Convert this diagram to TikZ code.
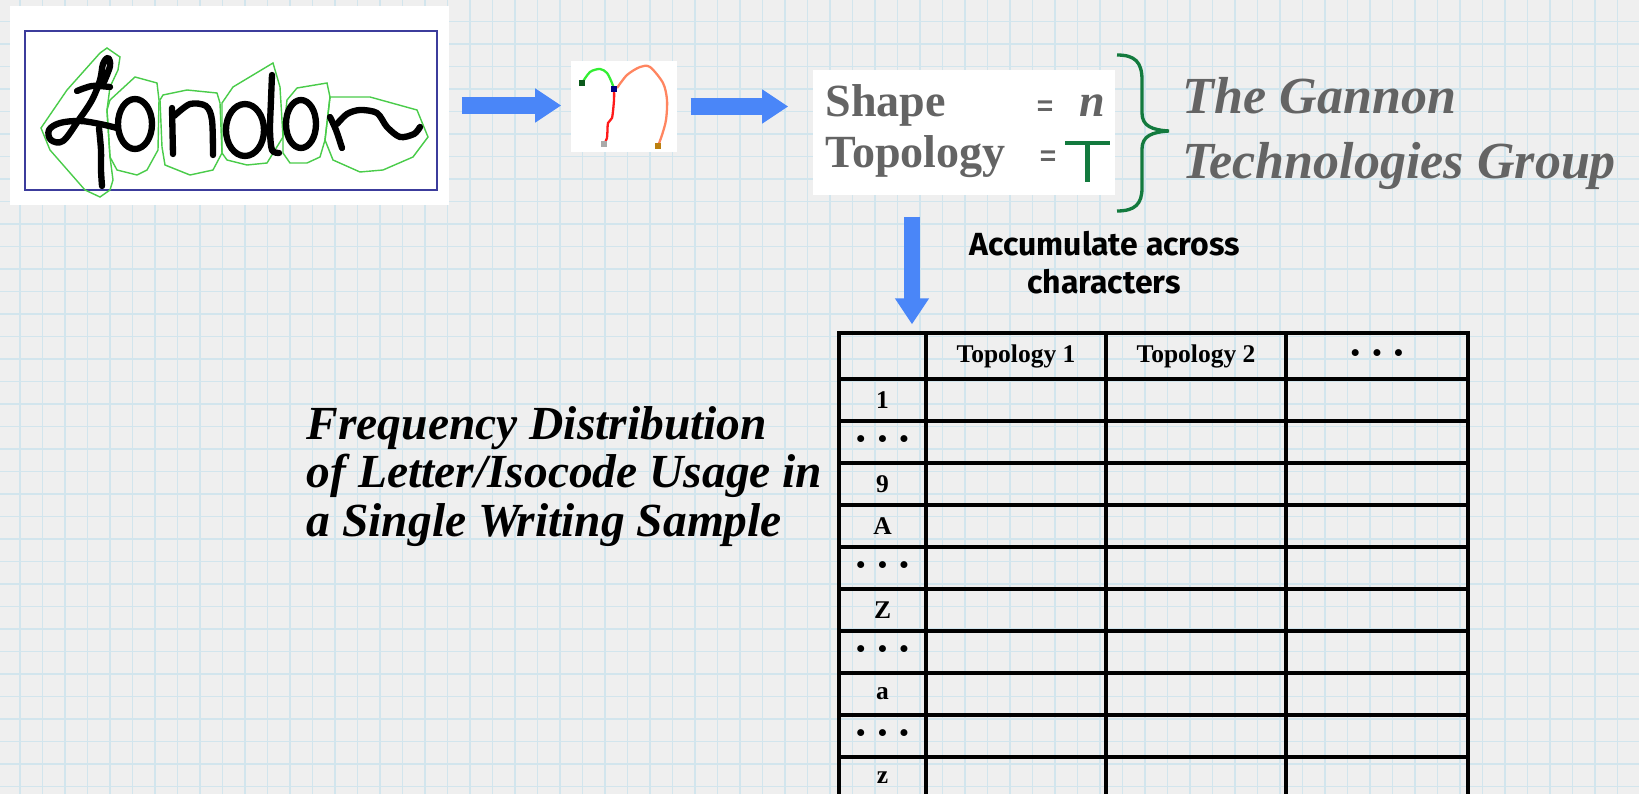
\documentclass[tikz,border=0pt]{standalone}
\usepackage{fontspec}
\setmainfont{Liberation Serif}
\newfontfamily\accfont{Fira Sans}
\newfontfamily\eqfont{Liberation Sans}
\usetikzlibrary{arrows.meta,positioning,calc}
\definecolor{paper}{HTML}{EFEFEF}
\definecolor{gridblue}{HTML}{D2E5ED}
\definecolor{arrowblue}{HTML}{4A86F8}
\definecolor{inkgray}{HTML}{646464}
\definecolor{bracegreen}{HTML}{137A3E}
\definecolor{framenavy}{HTML}{3C3C9C}
\definecolor{hullgreen}{HTML}{4ACC4A}
\definecolor{strokegreen}{HTML}{33EE33}
\definecolor{strokered}{HTML}{FF1A1A}
\definecolor{strokesalmon}{HTML}{FF8560}
\definecolor{dotdark}{HTML}{0B5A1C}
\definecolor{dotnavy}{HTML}{000080}
\definecolor{dotgray}{HTML}{AAAAAA}
\definecolor{dotbrown}{HTML}{BB7F0F}
\newcommand{\tbldots}{\textbullet\hspace{0.5em}\textbullet\hspace{0.5em}\textbullet}

\begin{document}
\begin{tikzpicture}[x=0.01cm, y=-0.01cm,
    panel/.style={fill=white, inner sep=0pt},
    blockarr/.style={-{Triangle[length=7.4pt, width=9.2pt]}, line width=4.6pt, arrowblue},
    gridline/.style={gridblue, line width=0.45pt},
    ink/.style={line width=1.8pt, line cap=round, line join=round},
    hull/.style={hullgreen, line width=0.4pt},
    featlabel/.style={inkgray, font=\fontsize{13.1}{15}\selectfont\bfseries, inner sep=0pt},
    eqsign/.style={inkgray, font=\eqfont\fontsize{8}{9}\selectfont\bfseries, inner sep=0pt},
    gannon/.style={inkgray, font=\fontsize{14.8}{17}\selectfont\bfseries\itshape, inner sep=0pt},
    acc/.style={font=\accfont\fontsize{9.1}{10.8}\selectfont\bfseries, inner sep=0pt},
    freq/.style={font=\fontsize{13.5}{13.66}\selectfont\bfseries\itshape, align=left, inner sep=0pt},
    tblcell/.style={draw=black, line width=0.9pt, inner sep=0pt,
                    font=\fontsize{7.25}{8}\selectfont\bfseries}
]
% paper background
\clip (0,0) rectangle (1639,794);
\fill[paper] (0,0) rectangle (1639,794);
\foreach \gx in {20,42.5,...,1640} \draw[gridline] (\gx,0) -- (\gx,794);
\foreach \gy in {-1,21.5,...,800} \draw[gridline] (0,\gy) -- (1639,\gy);

% handwriting sample
\node[panel, minimum width=4.39cm, minimum height=1.99cm] (london) at (229.5,105.5) {};
\draw[framenavy, line width=0.45pt] (25,31) rectangle (437,190);
\draw[hull] (107,48) -- (120,57) -- (118,70) -- (110,87) -- (107,110) -- (110,157) -- (113,180)
  -- (110,190) -- (100,197) -- (85,190) -- (50,150) -- (41,128) -- (67,90) -- (100,53) -- cycle;
\draw[hull] (110,100) -- (135,77) -- (157,83) -- (159,100) -- (158,150) -- (147,170) -- (137,175)
  -- (117,170) -- (110,157) -- (107,110) -- cycle;
\draw[hull] (163,95) -- (187,90) -- (217,93) -- (220,103) -- (222,153) -- (213,170) -- (190,175)
  -- (165,165) -- (162,147) -- (160,100) -- cycle;
\draw[hull] (222,103) -- (233,87) -- (273,63) -- (280,87) -- (283,137) -- (267,163) -- (247,165)
  -- (227,160) -- (222,153) -- cycle;
\draw[hull] (287,100) -- (297,88) -- (327,83) -- (330,97) -- (325,140) -- (320,157) -- (307,163)
  -- (290,163) -- (283,153) -- (283,137) -- cycle;
\draw[hull] (330,97) -- (370,97) -- (417,110) -- (428,137) -- (413,157) -- (383,170) -- (360,172)
  -- (333,160) -- (325,140) -- cycle;
% L
\draw[ink] plot[smooth] coordinates {(77,91) (92,86) (110,87)};
\draw[ink] plot[smooth, tension=0.6] coordinates {(104,82) (110,66) (108,58) (103,64) (100,80) (92,100) (78,121) (63,141) (51,140) (49,130) (60,123) (80,121) (100,124) (117,128)};
\draw[ink] plot[smooth] coordinates {(99,128) (101,150) (101,170) (102,186)};
% o n d o n
\draw[ink] (135,124) ellipse [x radius=17, y radius=25];
\draw[ink] (172,108) -- (173,154);
\draw[ink] plot[smooth] coordinates {(174,116) (190,104) (206,106) (212,120) (213,155)};
\draw[ink] (245,130) ellipse [x radius=19, y radius=26];
\draw[ink] plot[smooth] coordinates {(272,75) (271,100) (270,130) (272,150) (279,153)};
\draw[ink] (301,124) ellipse [x radius=15, y radius=24];
\draw[ink] plot[smooth] coordinates {(330,117) (336,130) (342,148)};
\draw[ink] plot[smooth] coordinates {(337,124) (347,114) (360,110) (377,113) (387,127) (400,137) (414,134) (420,127)};

% stroke decomposition
\node[panel, minimum width=1.06cm, minimum height=0.91cm] (strokes) at (624,106.5) {};
\draw[strokegreen, line width=0.65pt] plot[smooth] coordinates {(582,83) (590,72) (600,69) (607,73) (612,83) (614,89)};
\draw[strokered, line width=0.65pt] plot[smooth] coordinates {(614,89) (614,100) (612,118) (608,123) (607,138) (604,144)};
\draw[strokesalmon, line width=0.65pt] plot[smooth] coordinates {(617,88) (627,75) (640,67) (650,67) (663,83) (667,100) (666,120) (662,135) (658,146)};
\fill[dotdark] (579,80) rectangle (585,86);
\fill[dotnavy] (611,86) rectangle (617,92);
\fill[dotgray] (601,141) rectangle (607,147);
\fill[dotbrown] (655,143) rectangle (661,149);

% shape / topology features
\node[panel, minimum width=3.02cm, minimum height=1.25cm] (featbox) at (964,132.5) {};
\node[featlabel, anchor=base west] (shapetxt) at (825,117) {Shape};
\node[featlabel, anchor=base west] (topotxt) at (825,168) {Topology};
\node[eqsign] (shapeeq) at (1045,108) {=};
\node[eqsign] (topoeq) at (1048,158) {=};
\node[featlabel, font=\fontsize{13.1}{15}\selectfont\bfseries\itshape, anchor=base] (shapeval) at (1092,117) {n};
\draw[bracegreen, line width=1.2pt] (1065,143) -- (1110,143) (1087.5,143) -- (1087.5,182);

\draw[blockarr, shorten <=0.12cm, shorten >=0.09cm] (london.east) -- (london.east -| strokes.west);
\draw[blockarr, shorten <=0.13cm, shorten >=0.24cm] (strokes.east) -- (strokes.east -| featbox.west);

% brace and company
\draw[bracegreen, line width=0.95pt] (1117,55) .. controls (1135,55) and (1142,62) .. (1142,80)
  -- (1142,113) .. controls (1142,126) and (1152,130) .. (1169,131)
  .. controls (1152,132) and (1142,136) .. (1142,149)
  -- (1142,188) .. controls (1142,204) and (1135,211) .. (1117,211);
\node[gannon, anchor=base west] (gannon1) at (1182,114) {The Gannon};
\node[gannon, anchor=base west] (gannon2) at (1182,179) {Technologies Group};

% accumulation
\coordinate (acctop) at (912,217);
\node[acc, anchor=base] (acc1) at (1105,256) {Accumulate across};
\node[acc, anchor=base] (acc2) at (1104,294) {characters};

% frequency table
\node[tblcell, minimum width=0.87cm, minimum height=0.46cm] (hdr0) at (882.5,356) {};
\node[tblcell, minimum width=1.80cm, minimum height=0.46cm] (hdr1) at (1016,356) {Topology 1};
\node[tblcell, minimum width=1.80cm, minimum height=0.46cm] (hdr2) at (1196,356) {Topology 2};
\node[tblcell, minimum width=1.82cm, minimum height=0.46cm] (hdr3) at (1377,356) {\tbldots};
\foreach \lab [count=\r] in {1,\tbldots,9,A,\tbldots,Z,\tbldots,a,\tbldots,z} {
  \pgfmathsetmacro\cy{400+42*(\r-1)}
  \node[tblcell, minimum width=0.87cm, minimum height=0.42cm] (row\r) at (882.5,\cy) {\lab};
  \foreach \cx/\cw [count=\c] in {1016/1.80,1196/1.80,1377/1.82}
    \node[tblcell, minimum width=\cw cm, minimum height=0.42cm] (cell\r-\c) at (\cx,\cy) {};
}
\draw[blockarr, shorten >=0.07cm] (acctop) -- (acctop |- hdr0.north);

\node[freq, anchor=base west] (freqtxt) at (306,536) {Frequency Distribution\\of Letter/Isocode Usage in\\a Single Writing Sample};
\end{tikzpicture}
\end{document}
